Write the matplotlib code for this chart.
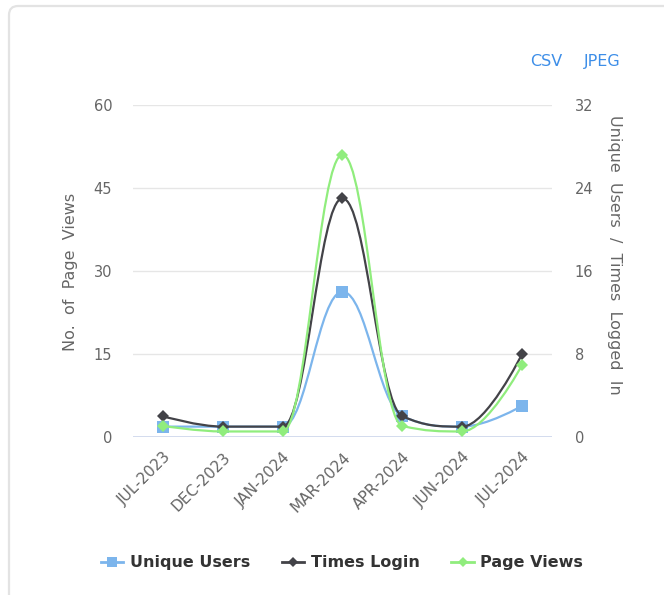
import matplotlib
matplotlib.use("Agg")
import matplotlib.pyplot as plt
from matplotlib.path import Path
from matplotlib.patches import PathPatch, FancyBboxPatch
from matplotlib.lines import Line2D
from matplotlib.transforms import IdentityTransform

# ---- data ----
categories = ["JUL-2023", "DEC-2023", "JAN-2024", "MAR-2024", "APR-2024", "JUN-2024", "JUL-2024"]
unique_users = [1, 1, 1, 14, 2, 1, 3]      # right axis
times_login = [2, 1, 1, 23, 2, 1, 8]       # right axis
page_views = [2, 1, 1, 51, 2, 1, 13]       # left axis
left_ticks = [0, 15, 30, 45, 60]
right_ticks = [0, 8, 16, 24, 32]

C_UU = "#7cb5ec"
C_TL = "#434348"
C_PV = "#90ed7d"
TXT = "#666666"

plt.rcParams['font.family'] = ['DejaVu Sans']

W, H = 664, 595
fig = plt.figure(figsize=(W / 100, H / 100), dpi=100)

# card border
card = FancyBboxPatch((9, -40), 720, H - 5 + 40 - 1, boxstyle="round,pad=0,rounding_size=9",
                      transform=IdentityTransform(), facecolor="white", edgecolor="#e3e3e3",
                      linewidth=1.6, zorder=0)
fig.patches.append(card)

L, R, T, B = 133, 552, 105, 437
ax = fig.add_axes([L / W, 1 - B / H, (R - L) / W, (B - T) / H])
ax.set_zorder(1)
ax.patch.set_visible(False)
ax2 = ax.twinx()  # page views (on top)


def hc_spline(xs, ys, smoothing=1.5):
    denom = smoothing + 1
    n = len(xs)
    lcx = list(xs); lcy = list(ys); rcx = list(xs); rcy = list(ys)
    for i in range(1, n - 1):
        px, py = xs[i], ys[i]
        lx, ly = xs[i - 1], ys[i - 1]
        nx, ny = xs[i + 1], ys[i + 1]
        a = (smoothing * px + lx) / denom
        b = (smoothing * py + ly) / denom
        c = (smoothing * px + nx) / denom
        d = (smoothing * py + ny) / denom
        if c != a:
            corr = ((d - b) * (c - px)) / (c - a) + py - d
            b += corr
            d += corr
        if b > ly and b > py:
            b = max(ly, py); d = 2 * py - b
        elif b < ly and b < py:
            b = min(ly, py); d = 2 * py - b
        if d > ny and d > py:
            d = max(ny, py); b = 2 * py - d
        elif d < ny and d < py:
            d = min(ny, py); b = 2 * py - d
        lcx[i], lcy[i], rcx[i], rcy[i] = a, b, c, d
    verts = [(xs[0], ys[0])]
    codes = [Path.MOVETO]
    for i in range(1, n):
        verts += [(rcx[i - 1], rcy[i - 1]), (lcx[i], lcy[i]), (xs[i], ys[i])]
        codes += [Path.CURVE4] * 3
    return Path(verts, codes)


x = list(range(len(categories)))


def draw(axis, ys, color, marker, ms, z):
    axis.add_patch(PathPatch(hc_spline(x, ys), facecolor="none", edgecolor=color,
                             linewidth=1.6, zorder=z, capstyle="round", joinstyle="round"))
    axis.plot(x, ys, linestyle="none", marker=marker, markersize=ms, color=color,
              markeredgewidth=0, zorder=z + 0.1, clip_on=False)


draw(ax, unique_users, C_UU, "s", 8.5, 3)
draw(ax, times_login, C_TL, "D", 6, 4)
draw(ax2, page_views, C_PV, "D", 6, 5)

ax.set_xlim(-0.5, len(categories) - 0.5)
ax.set_ylim(0, 32)
ax2.set_ylim(0, 60)

# right axis (ax) ticks on right, page views (ax2) ticks on left
ax.yaxis.tick_right()
ax.yaxis.set_label_position("right")
ax2.yaxis.tick_left()
ax2.yaxis.set_label_position("left")
ax.set_yticks(right_ticks)
ax2.set_yticks(left_ticks)
ax.tick_params(axis="y", length=0, pad=16.5, labelsize=10.5, labelcolor=TXT)
ax2.tick_params(axis="y", length=0, pad=15, labelsize=10.5, labelcolor=TXT)

ax.set_xticks(x)
ax.set_xticklabels(categories, rotation=45, ha="right", va="top", rotation_mode="anchor",
                   fontsize=11, color=TXT)
ax.tick_params(axis="x", length=0, pad=9)

for a in (ax, ax2):
    for s in a.spines.values():
        s.set_visible(False)
ax.grid(False)
for t in right_ticks[1:]:
    ax.axhline(t, color="#e6e6e6", linewidth=1, zorder=0.5)
ax.axhline(0, color="#ccd6eb", linewidth=1.2, zorder=0.6)

ax2.set_ylabel("No.  of  Page  Views", fontsize=11.5, color=TXT, va="center")
ax2.yaxis.set_label_coords(-0.150, 0.497)
ax.set_ylabel("Unique  Users  /  Times  Logged  In", fontsize=11.5, color=TXT, rotation=270,
              va="center")
ax.yaxis.set_label_coords(1.150, 0.548)

# export links
fig.text(530 / W, 1 - 66 / H, "CSV", color="#3d8ee8", fontsize=11.5, va="baseline", ha="left")
fig.text(584 / W, 1 - 66 / H, "JPEG", color="#3d8ee8", fontsize=11.5, va="baseline", ha="left")

handles = [
    Line2D([], [], color=C_UU, marker="s", markersize=7, linewidth=2, markeredgewidth=0),
    Line2D([], [], color=C_TL, marker="D", markersize=5, linewidth=2, markeredgewidth=0),
    Line2D([], [], color=C_PV, marker="D", markersize=5, linewidth=2, markeredgewidth=0),
]
leg = fig.legend(handles, ["Unique Users", "Times Login", "Page Views"], loc="center",
                 bbox_to_anchor=(342 / W, 1 - 563 / H), ncol=3, frameon=False,
                 handlelength=1.4, handletextpad=0.4, columnspacing=2.0,
                 prop={"weight": "bold", "size": 11.5})
for t in leg.get_texts():
    t.set_color("#333333")

fig.savefig("out.png", dpi=100)
